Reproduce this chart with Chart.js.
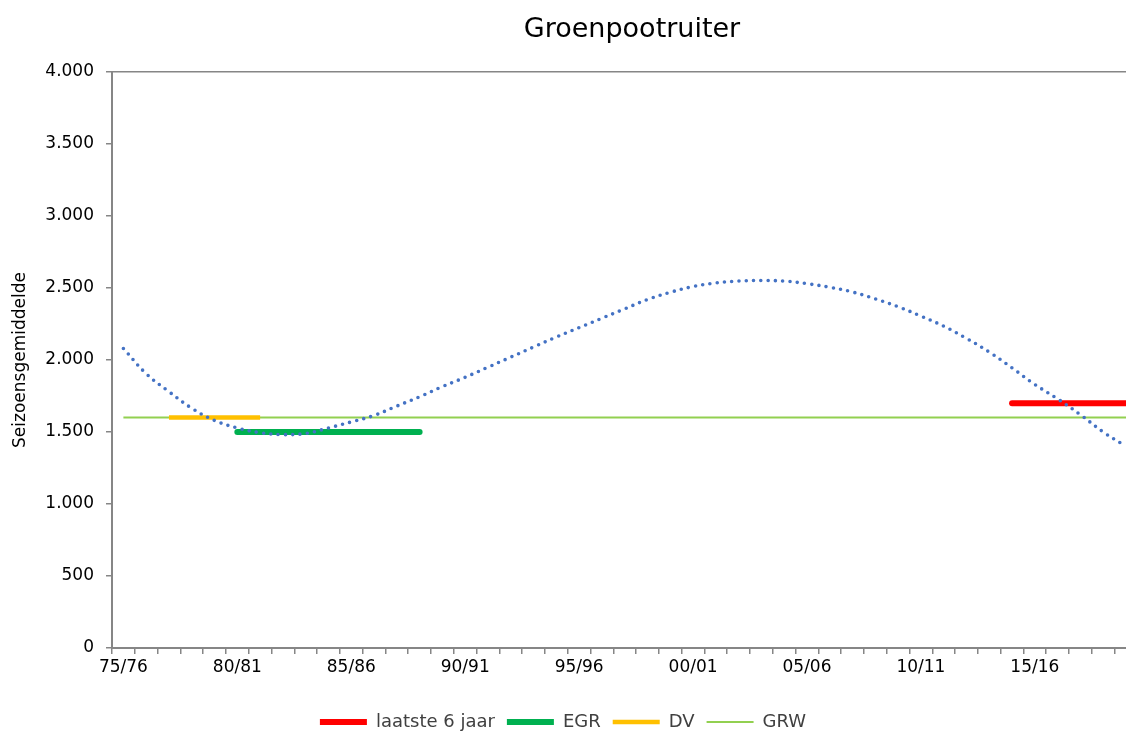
<!DOCTYPE html>
<html>
<head>
<meta charset="utf-8">
<script src="https://cdn.jsdelivr.net/npm/chart.js@4/dist/chart.umd.min.js"></script>
<style>
  html, body { margin: 0; padding: 0; background: #fff; overflow: hidden; }
  #wrap { width: 1126px; height: 736px; overflow: hidden; }
</style>
</head>
<body>
<div id="wrap"><canvas id="chart" width="1126" height="741"></canvas></div>
<script>
// seasons on the x axis (one category each)
const seasons = [
  '75/76','76/77','77/78','78/79','79/80','80/81','81/82','82/83','83/84','84/85',
  '85/86','86/87','87/88','88/89','89/90','90/91','91/92','92/93','93/94','94/95',
  '95/96','96/97','97/98','98/99','99/00','00/01','01/02','02/03','03/04','04/05',
  '05/06','06/07','07/08','08/09','09/10','10/11','11/12','12/13','13/14','14/15',
  '15/16','16/17','17/18','18/19','19/20'
];

// dotted trend line per season
const trend = [
  2080, 1905, 1780, 1665, 1580, 1528, 1495, 1482, 1490, 1528,
  1570, 1615, 1680, 1745, 1815, 1880, 1950, 2020, 2090, 2160,
  2225, 2290, 2355, 2420, 2470, 2510, 2535, 2548, 2552, 2548,
  2530, 2505, 2472, 2424, 2370, 2305, 2235, 2150, 2055, 1945,
  1830, 1730, 1620, 1500, 1400
];

// horizontal reference lines
const refNames  = ['laatste 6 jaar', 'EGR', 'DV', 'GRW'];
const refLevels = [1700, 1500, 1600, 1600];
const refFrom   = ['14/15', '80/81', '77/78', '75/76'];
const refTo     = ['19/20', '88/89', '81/82', '19/20'];
const refColors = ['#FF0000', '#00B050', '#FFC000', '#92D050'];
const refWidths = [6, 6, 4.5, 2];
const refCaps   = ['round', 'round', 'butt', 'butt'];

const yTicks = [0, 500, 1000, 1500, 2000, 2500, 3000, 3500, 4000];

const chartTitle = 'Groenpootruiter';
const FONT = '"DejaVu Sans", Verdana, sans-serif';
const axisGrey = '#868686';

function fmt(v) {
  if (v >= 1000) return Math.floor(v / 1000) + '.' + String(v % 1000).padStart(3, '0');
  return String(v);
}

const datasets = [{
  label: 'trend',
  data: trend.map((v, i) => ({ x: i, y: v })),
  borderColor: '#4472C4',
  borderWidth: 3.6,
  borderDash: [0, 7.3],
  borderCapStyle: 'round',
  pointRadius: 0,
  tension: 0.4,
  fill: false
}];

refNames.forEach((name, k) => {
  datasets.push({
    label: name,
    data: [
      { x: seasons.indexOf(refFrom[k]), y: refLevels[k] },
      { x: seasons.indexOf(refTo[k]), y: refLevels[k] }
    ],
    borderColor: refColors[k],
    backgroundColor: refColors[k],
    borderWidth: refWidths[k],
    borderCapStyle: refCaps[k],
    pointRadius: 0,
    pointStyle: 'line',
    fill: false
  });
});

// title drawn a bit right of the canvas centre, like the original
const titlePlugin = {
  id: 'titleText',
  afterDraw(chart) {
    const c = chart.ctx;
    c.save();
    c.font = '27px ' + FONT;
    c.fillStyle = '#000';
    c.textAlign = 'center';
    c.textBaseline = 'middle';
    c.fillText(chartTitle, 632, 30);
    c.restore();
  }
};

const ctx = document.getElementById('chart').getContext('2d');
new Chart(ctx, {
  type: 'line',
  data: { datasets: datasets },
  plugins: [titlePlugin],
  options: {
    responsive: false,
    animation: false,
    layout: { padding: { left: 0, right: 0, top: 72, bottom: 0 } },
    plugins: {
      title: { display: false },
      legend: {
        position: 'bottom',
        labels: {
          filter: item => item.text !== 'trend',
          usePointStyle: true,
          pointStyleWidth: 47,
          color: '#404040',
          font: { family: FONT, size: 18 },
          padding: 12
        }
      },
      tooltip: { enabled: false }
    },
    scales: {
      x: {
        type: 'linear',
        min: -0.5,
        max: seasons.length - 1,
        afterBuildTicks: scale => {
          scale.ticks = seasons.map((s, i) => ({ value: i - 0.5 }));
        },
        afterFit: scale => { scale.height = 53; },
        ticks: {
          autoSkip: false,
          maxRotation: 0,
          color: '#000',
          font: { family: FONT, size: 17 },
          padding: 3,
          labelOffset: 11.4,
          callback: value => {
            const k = Math.round(value + 0.5);
            return k % 5 === 0 ? seasons[k] : '';
          }
        },
        grid: {
          drawOnChartArea: false,
          color: axisGrey,
          tickColor: axisGrey,
          tickLength: 6,
          lineWidth: 1.5
        },
        border: { display: true, color: axisGrey, width: 2 }
      },
      y: {
        min: 0,
        max: 4000,
        afterBuildTicks: scale => {
          scale.ticks = yTicks.map(v => ({ value: v }));
        },
        afterFit: scale => { scale.width = 112; },
        ticks: {
          color: '#000',
          font: { family: FONT, size: 17 },
          padding: 12,
          callback: v => fmt(v)
        },
        title: {
          display: true,
          text: 'Seizoensgemiddelde',
          color: '#000',
          font: { family: FONT, size: 17 },
          padding: { top: 10, bottom: 0 }
        },
        grid: {
          drawOnChartArea: true,
          color: c => (c.tick && c.tick.value === 4000 ? axisGrey : 'rgba(0,0,0,0)'),
          tickColor: axisGrey,
          tickLength: 6,
          lineWidth: 1.5
        },
        border: { display: true, color: axisGrey, width: 2 }
      }
    }
  }
});
</script>
</body>
</html>
